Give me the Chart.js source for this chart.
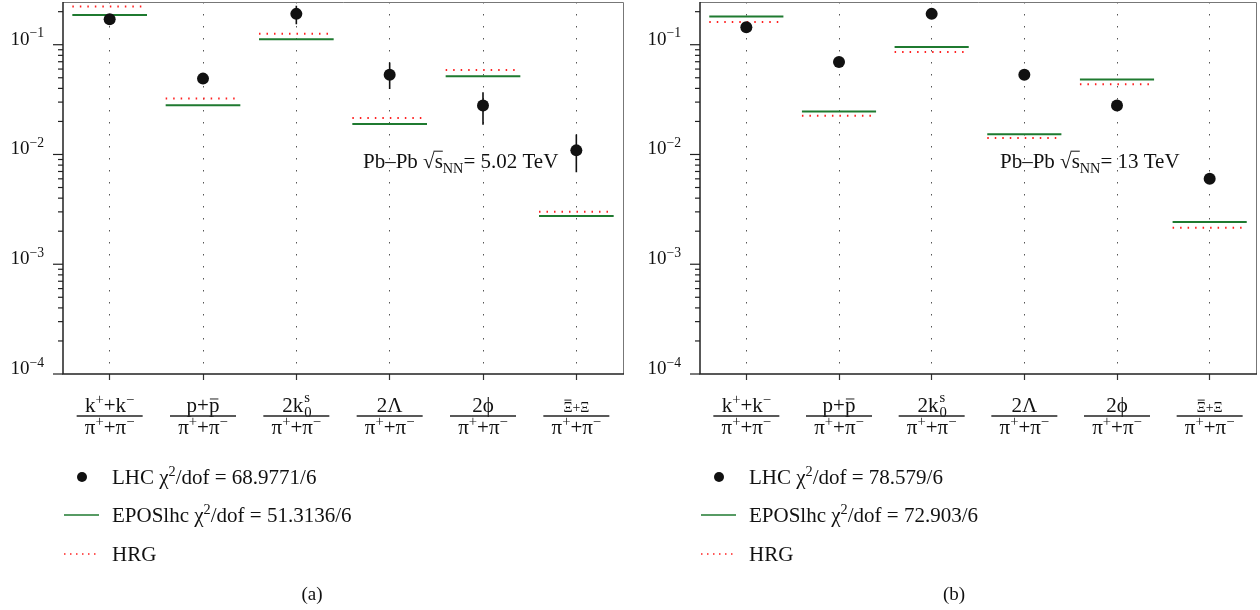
<!DOCTYPE html>
<html>
<head>
<meta charset="utf-8">
<script src="https://cdn.jsdelivr.net/npm/chart.js@4.4.0/dist/chart.umd.min.js"></script>
<style>
  html, body { margin: 0; padding: 0; background: #fff; }
  #wrap { position: relative; width: 1260px; height: 610px; }
  .panel { position: absolute; top: 0; width: 630px; height: 610px; }
</style>
</head>
<body>
<div id="wrap">
  <div class="panel" style="left:0"><canvas id="chartA" width="630" height="610"></canvas></div>
  <div class="panel" style="left:630px"><canvas id="chartB" width="630" height="610"></canvas></div>
</div>
<script>
// particle ratios on the x axis
const categories = ['K', 'p', 'K0s', 'Lambda', 'phi', 'Xi'];

// tick labels, drawn as fractions: pieces are [text, style, size]
const tickNumerators = [
  [['k'], ['+', 'sup'], ['+'], ['k'], ['\u2212', 'sup']],
  [['p'], ['+'], ['p', 'bar']],
  [['2k'], [['0', 's'], 'subsup']],
  [['2\u039b']],
  [['2\u03d5']],
  [['\u039e', 'capbar', 14], ['+', '', 14], ['\u039e', '', 14]]
];
const tickDenominator = [['\u03c0'], ['+', 'sup'], ['+'], ['\u03c0'], ['\u2212', 'sup']];

const yTickValues = [1e-4, 1e-3, 1e-2, 1e-1];
const yTickExps = ['\u22124', '\u22123', '\u22122', '\u22121'];
const yMinorSteps = [2, 3, 4, 5, 6, 7, 8, 9];

// (a) Pb-Pb 5.02 TeV
const lhcA = [0.171, 0.0491, 0.191, 0.0533, 0.0279, 0.0109];
const lhcAlo = [0.163, 0.0445, 0.154, 0.0395, 0.0187, 0.0069];
const lhcAhi = [0.180, 0.0535, 0.226, 0.069, 0.0368, 0.0152];
const eposA = [0.187, 0.0281, 0.112, 0.019, 0.0515, 0.00275];
const hrgA = [0.223, 0.0323, 0.126, 0.0215, 0.0589, 0.00301];

// (b) Pb-Pb 13 TeV
const lhcB = [0.144, 0.0697, 0.191, 0.0533, 0.0279, 0.006];
const eposB = [0.181, 0.0246, 0.0953, 0.0153, 0.0481, 0.00243];
const hrgB = [0.161, 0.0225, 0.0859, 0.0141, 0.0436, 0.00215];

const legendA = [
  [['LHC \u03c7'], ['2', 'sup'], ['/dof = 68.9771/6']],
  [['EPOSlhc \u03c7'], ['2', 'sup'], ['/dof = 51.3136/6']],
  [['HRG']]
];
const legendB = [
  [['LHC \u03c7'], ['2', 'sup'], ['/dof = 78.579/6']],
  [['EPOSlhc \u03c7'], ['2', 'sup'], ['/dof = 72.903/6']],
  [['HRG']]
];
const noteA = [['Pb\u2013Pb \u221a'], ['s', 'root'], ['NN', 'sub'], ['= 5.02 TeV']];
const noteB = [['Pb\u2013Pb \u221a'], ['s', 'root'], ['NN', 'sub'], ['= 13 TeV']];

const F = s => s + 'px "Liberation Serif", "DejaVu Serif", serif';
let supScale = 0.68;

function segWidth(ctx, s, base) {
  const size = s[2] || base;
  const st = s[1] || '';
  if (st === 'subsup') {
    ctx.font = F(size * supScale);
    return Math.max(ctx.measureText(s[0][0]).width, ctx.measureText(s[0][1]).width);
  }
  ctx.font = F(st === 'sup' || st === 'sub' ? size * supScale : size);
  return ctx.measureText(s[0]).width;
}

function drawRich(ctx, segs, x, y, base, align) {
  const total = segs.reduce((w, s) => w + segWidth(ctx, s, base), 0);
  let cx = align === 'center' ? x - total / 2 : align === 'right' ? x - total : x;
  ctx.textAlign = 'left';
  ctx.textBaseline = 'alphabetic';
  segs.forEach(s => {
    const size = s[2] || base, st = s[1] || '';
    const w = segWidth(ctx, s, base);
    if (st === 'subsup') {
      ctx.font = F(size * supScale);
      ctx.fillText(s[0][0], cx + 1, y + size * 0.22);
      ctx.fillText(s[0][1], cx + 1, y - size * 0.5);
    } else if (st === 'sup') {
      ctx.font = F(size * supScale);
      ctx.fillText(s[0], cx, y - size * 0.38);
    } else if (st === 'sub') {
      ctx.font = F(size * supScale);
      ctx.fillText(s[0], cx, y + size * 0.25);
    } else {
      ctx.font = F(size);
      ctx.fillText(s[0], cx, y);
      if (st === 'bar' || st === 'capbar' || st === 'root') {
        const h = st === 'bar' ? 0.62 : st === 'capbar' ? 0.85 : 0.8;
        ctx.lineWidth = 1;
        ctx.beginPath();
        ctx.moveTo(cx + (st === 'root' ? -1 : 1), y - size * h);
        ctx.lineTo(cx + w - (st === 'root' ? 0 : 1), y - size * h);
        ctx.stroke();
      }
    }
    cx += w;
  });
  return total;
}

const panelInfo = {
  chartA: { lo: lhcAlo, hi: lhcAhi, legend: legendA, note: noteA, caption: '(a)', capX: 312 },
  chartB: { lo: null, hi: null, legend: legendB, note: noteB, caption: '(b)', capX: 324 }
};

const panelPlugin = {
  id: 'panel',
  beforeDatasetsDraw(chart) {
    const info = panelInfo[chart.canvas.id];
    if (!info.lo) return;
    const ctx = chart.ctx, xs = chart.scales.x, ys = chart.scales.y;
    ctx.save();
    ctx.strokeStyle = '#111';
    ctx.lineWidth = 1.6;
    ctx.beginPath();
    info.lo.forEach((lo, i) => {
      const x = xs.getPixelForValue(i);
      ctx.moveTo(x, ys.getPixelForValue(info.hi[i]));
      ctx.lineTo(x, ys.getPixelForValue(lo));
    });
    ctx.stroke();
    ctx.restore();
  },
  afterDraw(chart) {
    const info = panelInfo[chart.canvas.id];
    const ctx = chart.ctx, a = chart.chartArea, xs = chart.scales.x, ys = chart.scales.y;
    ctx.save();
    // frame
    ctx.strokeStyle = '#777';
    ctx.lineWidth = 1;
    ctx.beginPath();
    ctx.moveTo(a.left, a.top + 0.5); ctx.lineTo(a.right + 0.5, a.top + 0.5); ctx.lineTo(a.right + 0.5, a.bottom);
    ctx.stroke();
    ctx.strokeStyle = '#222';
    ctx.lineWidth = 1.5;
    ctx.beginPath();
    ctx.moveTo(a.left, a.top); ctx.lineTo(a.left, a.bottom); ctx.lineTo(a.right + 1, a.bottom);
    ctx.stroke();

    // y ticks and labels
    ctx.fillStyle = '#111';
    ctx.strokeStyle = '#222';
    ctx.lineWidth = 1.2;
    supScale = 0.72;
    yTickValues.forEach((v, k) => {
      const y = ys.getPixelForValue(v);
      ctx.beginPath(); ctx.moveTo(a.left - 10, y); ctx.lineTo(a.left, y); ctx.stroke();
      yMinorSteps.forEach(m => {
        if (v * m > ys.max) return;
        const ym = ys.getPixelForValue(v * m);
        ctx.beginPath(); ctx.moveTo(a.left - 5, ym); ctx.lineTo(a.left, ym); ctx.stroke();
      });
      drawRich(ctx, [['10'], [yTickExps[k], 'sup']], a.left - 19, y, 19, 'right');
    });

    // x fraction labels
    supScale = 0.7;
    ctx.strokeStyle = '#222';
    categories.forEach((c, i) => {
      const x = xs.getPixelForValue(i);
      drawRich(ctx, tickNumerators[i], x, 412, 21, 'center');
      ctx.lineWidth = 1.3;
      ctx.beginPath(); ctx.moveTo(x - 33, 416); ctx.lineTo(x + 33, 416); ctx.stroke();
      drawRich(ctx, tickDenominator, x, 434, 21, 'center');
    });

    // annotation
    supScale = 0.68;
    ctx.strokeStyle = '#111';
    drawRich(ctx, info.note, a.left + 300, 168, 21, 'left');

    // legend
    const rows = [477, 515, 554];
    ctx.fillStyle = '#111';
    ctx.beginPath(); ctx.arc(a.left + 19, rows[0], 5, 0, Math.PI * 2); ctx.fill();
    ctx.strokeStyle = '#1f7a30'; ctx.lineWidth = 1.5;
    ctx.beginPath(); ctx.moveTo(a.left + 1, rows[1]); ctx.lineTo(a.left + 36, rows[1]); ctx.stroke();
    ctx.strokeStyle = '#ff2020'; ctx.setLineDash([1.5, 4.5]);
    ctx.beginPath(); ctx.moveTo(a.left + 1, rows[2]); ctx.lineTo(a.left + 36, rows[2]); ctx.stroke();
    ctx.setLineDash([]);
    ctx.fillStyle = '#111';
    info.legend.forEach((segs, r) => drawRich(ctx, segs, a.left + 49, rows[r] + 7, 21, 'left'));

    // caption
    ctx.font = F(19);
    ctx.textAlign = 'center';
    ctx.fillText(info.caption, info.capX, 600);
    ctx.restore();
  }
};

function segments(vals) {
  const out = [];
  vals.forEach((v, i) => {
    out.push({ x: i - 0.4, y: v }, { x: i + 0.4, y: v }, { x: i + 0.5, y: null });
  });
  return out;
}

function buildChart(id, lhc, epos, hrg, axisW, padRight) {
  return new Chart(document.getElementById(id), {
    type: 'scatter',
    data: {
      datasets: [
        { label: 'LHC', data: lhc.map((v, i) => ({ x: i, y: v })), pointRadius: 6,
          pointBackgroundColor: '#111', pointBorderColor: '#111', pointBorderWidth: 0, order: 0 },
        { type: 'line', label: 'EPOSlhc', data: segments(epos), borderColor: '#1f7a30', borderWidth: 2,
          pointRadius: 0, spanGaps: false, fill: false, order: 1 },
        { type: 'line', label: 'HRG', data: segments(hrg), borderColor: '#ff2020', borderWidth: 2,
          borderDash: [1.5, 6], pointRadius: 0, spanGaps: false, fill: false, order: 2 }
      ]
    },
    options: {
      responsive: false,
      animation: false,
      layout: { autoPadding: false, padding: { top: 2, right: padRight, left: 0, bottom: 0 } },
      plugins: { legend: { display: false }, tooltip: { enabled: false } },
      scales: {
        x: {
          type: 'linear', min: -0.5, max: 5.5,
          afterBuildTicks: s => { s.ticks = categories.map((c, i) => ({ value: i })); },
          afterFit: s => { s.height = 236; },
          ticks: { display: false },
          grid: { color: '#555', lineWidth: 1, drawTicks: true, tickLength: 6, tickColor: '#333', tickWidth: 1.2 },
          border: { display: false, dash: [1.5, 10.5] }
        },
        y: {
          type: 'logarithmic', min: 1e-4, max: 0.245,
          afterFit: s => { s.width = axisW; },
          ticks: { display: false },
          grid: { display: false },
          border: { display: false }
        }
      }
    },
    plugins: [panelPlugin]
  });
}

buildChart('chartA', lhcA, eposA, hrgA, 63, 7);
buildChart('chartB', lhcB, eposB, hrgB, 70, 4);
</script>
</body>
</html>
